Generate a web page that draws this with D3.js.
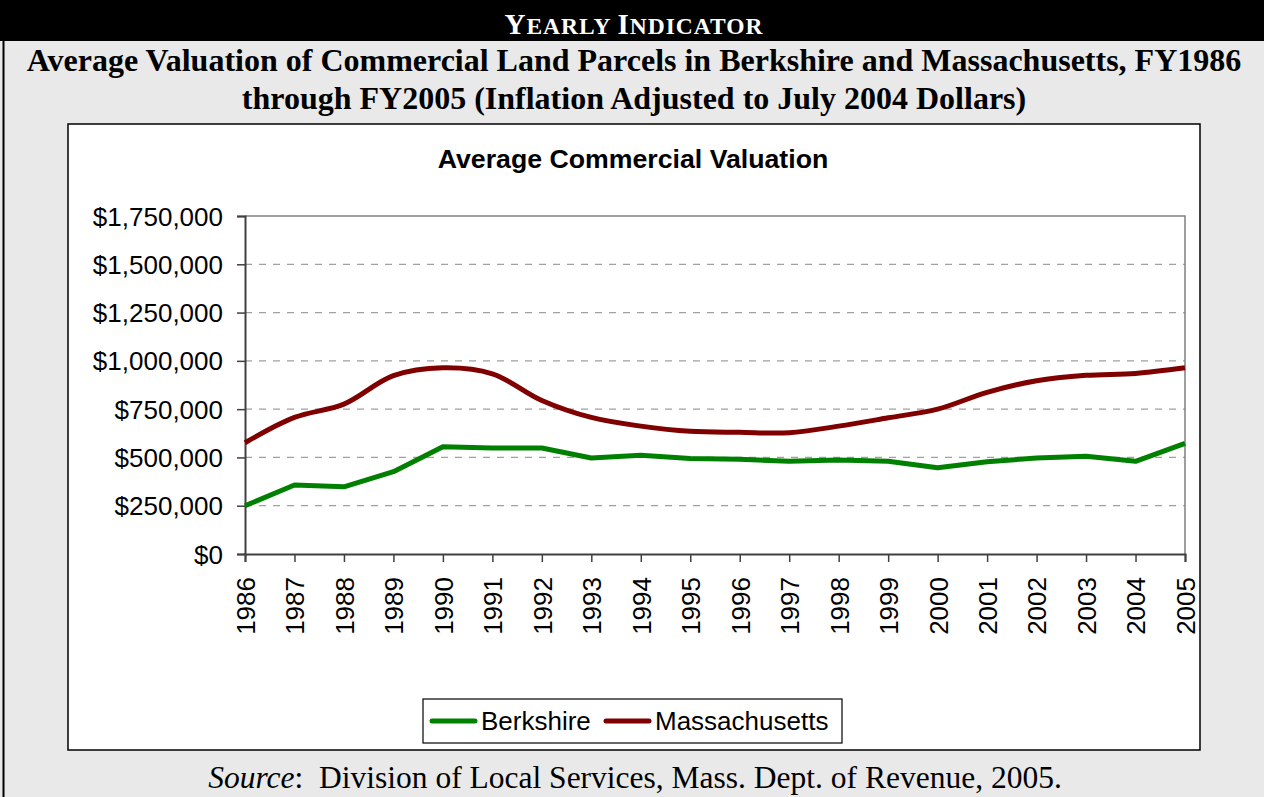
<!DOCTYPE html>
<html>
<head>
<meta charset="utf-8">
<script src="https://cdn.jsdelivr.net/npm/d3@7"></script>
<style>
  body { margin: 0; background: #e9e9e9; }
  svg { display: block; }
</style>
</head>
<body>
<svg id="canvas" width="1264" height="797"></svg>
<script>
const width = 1264
const height = 797

const years = ["1986", "1987", "1988", "1989", "1990", "1991", "1992", "1993", "1994", "1995",
    "1996", "1997", "1998", "1999", "2000", "2001", "2002", "2003", "2004", "2005"]
const berkshire = [250000, 357000, 348000, 426000, 555000, 549000, 549000, 497000, 511000, 495000,
    490000, 480000, 487000, 480000, 447000, 478000, 497000, 506000, 480000, 573000]
const massachusetts = [576000, 707000, 776000, 923000, 964000, 933000, 795000, 707000, 662000, 635000,
    630000, 628000, 662000, 705000, 750000, 837000, 897000, 925000, 935000, 964000]
const yTicks = [0, 250000, 500000, 750000, 1000000, 1250000, 1500000, 1750000]
const seriesNames = ["Berkshire", "Massachusetts"]
const seriesColors = ["#008000", "#800000"]

const plot = { left: 245, right: 1185, top: 216, bottom: 554 }
const serif = "'Liberation Serif', 'Times New Roman', serif"
const sans = "'Liberation Sans', Arial, sans-serif"

const canvas = d3.select("#canvas")

canvas.append("rect")
    .attr("width", width).attr("height", height)
    .attr("fill", "#e9e9e9")

// header bar
canvas.append("rect")
    .attr("x", 0).attr("y", 0)
    .attr("width", width).attr("height", 41)
    .attr("fill", "black")

canvas.append("line")
    .attr("x1", 3.5).attr("x2", 3.5)
    .attr("y1", 41).attr("y2", height)
    .attr("stroke", "black").attr("stroke-width", 2)

const header = canvas.append("text")
    .attr("x", 634).attr("y", 34)
    .attr("text-anchor", "middle")
    .attr("fill", "white")
    .style("font-family", serif)
    .style("font-weight", "bold")
    .style("letter-spacing", "1px")
    .style("white-space", "pre")

// fake small caps: big first letter, smaller rest
const headerParts = [["Y", 29], ["EARLY ", 23.5], ["I", 29], ["NDICATOR", 23.5]]
headerParts.forEach(p => {
    header.append("tspan").style("font-size", p[1] + "px").text(p[0])
})

const titleLines = ["Average Valuation of Commercial Land Parcels in Berkshire and Massachusetts, FY1986",
    "through FY2005 (Inflation Adjusted to July 2004 Dollars)"]

canvas.selectAll(".title")
    .data(titleLines)
    .enter().append("text")
    .attr("class", "title")
    .attr("x", 634)
    .attr("y", (d, i) => 71 + i * 38)
    .attr("text-anchor", "middle")
    .style("font-family", serif)
    .style("font-weight", "bold")
    .style("font-size", "32px")
    .text(d => d)

// white chart box
canvas.append("rect")
    .attr("x", 68).attr("y", 124)
    .attr("width", 1132).attr("height", 626)
    .attr("fill", "white")
    .attr("stroke", "black")
    .attr("stroke-width", 1.5)

canvas.append("text")
    .attr("x", 633).attr("y", 168)
    .attr("text-anchor", "middle")
    .style("font-family", sans)
    .style("font-weight", "bold")
    .style("font-size", "26.7px")
    .text("Average Commercial Valuation")

const x = d3.scalePoint()
    .domain(years)
    .range([plot.left, plot.right])

const y = d3.scaleLinear()
    .domain([0, 1750000])
    .range([plot.bottom, plot.top])

// grid lines
canvas.selectAll(".grid")
    .data(yTicks.filter(d => d > 0 && d < 1750000))
    .enter().append("line")
    .attr("class", "grid")
    .attr("x1", plot.left).attr("x2", plot.right)
    .attr("y1", d => y(d)).attr("y2", d => y(d))
    .attr("stroke", "#a0a0a0")
    .attr("stroke-width", 1.2)
    .attr("stroke-dasharray", "7,7")

// plot border top and right
canvas.append("path")
    .attr("d", `M${plot.left},${plot.top}H${plot.right}V${plot.bottom}`)
    .attr("fill", "none")
    .attr("stroke", "#808080")
    .attr("stroke-width", 1.5)

const yAxis = canvas.append("g")
    .attr("transform", `translate(${plot.left},0)`)
    .call(d3.axisLeft(y).tickValues(yTicks).tickFormat(d3.format("$,")).tickSize(8).tickPadding(14))

const xAxis = canvas.append("g")
    .attr("transform", `translate(0,${plot.bottom})`)
    .call(d3.axisBottom(x).tickSize(8).tickPadding(0))

for (const axis of [yAxis, xAxis]) {
    axis.select(".domain").attr("stroke", "#404040").attr("stroke-width", 2)
    axis.selectAll(".tick line").attr("stroke", "#404040").attr("stroke-width", 1.5)
    axis.selectAll("text")
        .attr("fill", "black")
        .style("font-family", sans)
        .style("font-size", "26px")
}

xAxis.selectAll("text")
    .attr("transform", "rotate(-90)")
    .attr("text-anchor", "end")
    .attr("x", -23)
    .attr("y", 0)
    .attr("dy", "0.36em")

yAxis.selectAll("text").attr("dy", "0.35em")

// series lines
const series = [berkshire, massachusetts]
const curves = [d3.curveLinear, d3.curveCatmullRom.alpha(0.5)]

series.forEach((values, s) => {
    const line = d3.line()
        .x((d, i) => x(years[i]))
        .y(d => y(d))
        .curve(curves[s])
    canvas.append("path")
        .datum(values)
        .attr("d", line)
        .attr("fill", "none")
        .attr("stroke", seriesColors[s])
        .attr("stroke-width", 5)
        .attr("stroke-linejoin", "round")
})

// legend
canvas.append("rect")
    .attr("x", 423).attr("y", 699)
    .attr("width", 419).attr("height", 44)
    .attr("fill", "white")
    .attr("stroke", "black")
    .attr("stroke-width", 1.2)

const legendX = [432, 606]
const legendItems = canvas.selectAll(".legend")
    .data(seriesNames)
    .enter().append("g")
    .attr("transform", (d, i) => `translate(${legendX[i]},721)`)

legendItems.append("line")
    .attr("x1", 0).attr("x2", 43)
    .attr("stroke", (d, i) => seriesColors[i])
    .attr("stroke-width", 5)
    .attr("stroke-linecap", "round")

legendItems.append("text")
    .attr("x", 49)
    .attr("dy", "0.35em")
    .style("font-family", sans)
    .style("font-size", "26px")
    .text(d => d)

// source
const source = canvas.append("text")
    .attr("x", 635).attr("y", 788)
    .attr("text-anchor", "middle")
    .style("font-family", serif)
    .style("font-size", "31.5px")
    .style("white-space", "pre")
source.append("tspan").style("font-style", "italic").text("Source")
source.append("tspan").text(":  Division of Local Services, Mass. Dept. of Revenue, 2005.")
</script>
</body>
</html>
